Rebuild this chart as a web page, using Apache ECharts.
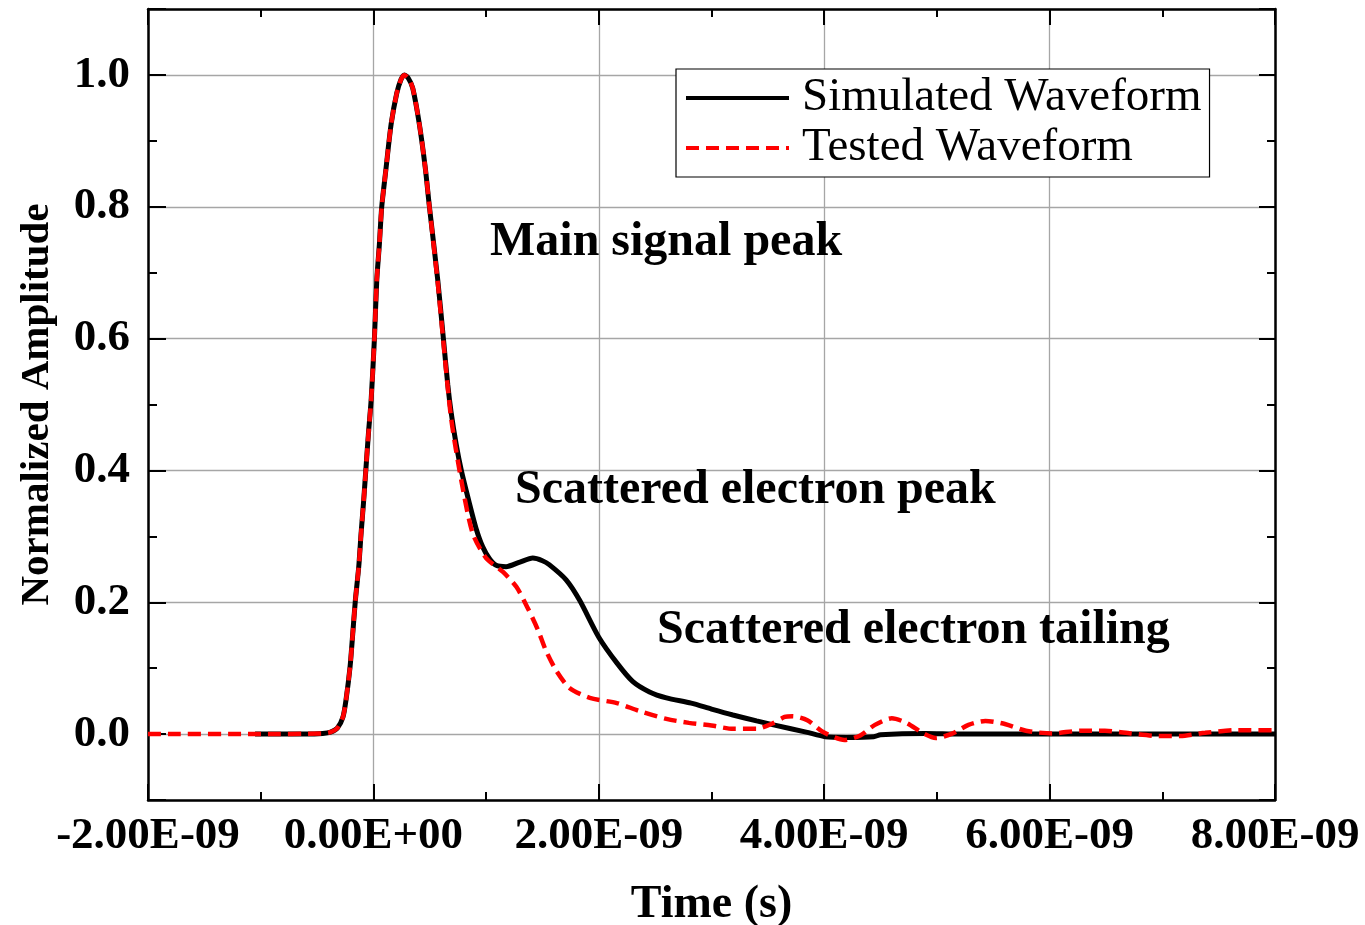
<!DOCTYPE html>
<html><head><meta charset="utf-8">
<script src="https://cdn.jsdelivr.net/npm/echarts@6/dist/echarts.min.js"></script>
<style>html,body{margin:0;padding:0;background:#fff}#c{width:1365px;height:925px}</style>
</head><body><div id="c"></div>
<script>
// time in nanoseconds (axis labels shown in seconds)
const simTime = [-1.05,-0.60,-0.45,-0.38,-0.32,-0.27,-0.243,-0.207,-0.183,-0.160,-0.130,-0.109,-0.086,-0.065,-0.044,-0.020,0.009,0.030,0.053,0.074,0.112,0.157,0.207,0.245,0.275,0.310,0.349,0.408,0.461,0.497,0.571,0.621,0.660,0.689,0.734,0.780,0.852,0.911,0.970,1.03,1.089,1.177,1.30,1.414,1.50,1.56,1.71,1.83,2.00,2.16,2.30,2.45,2.60,2.82,3.00,3.19,3.40,3.55,3.84,4.01,4.20,4.44,4.50,4.90,5.20,6.00,8.00];
const simAmp  = [0,0,0.001,0.003,0.009,0.026,0.052,0.102,0.153,0.203,0.254,0.305,0.355,0.406,0.456,0.507,0.600,0.689,0.743,0.800,0.858,0.925,0.972,0.993,1.000,0.995,0.980,0.925,0.858,0.800,0.689,0.600,0.530,0.489,0.440,0.400,0.350,0.312,0.284,0.266,0.256,0.254,0.261,0.267,0.263,0.257,0.234,0.203,0.147,0.108,0.080,0.064,0.055,0.047,0.038,0.029,0.020,0.014,0.003,-0.004,-0.005,-0.004,-0.001,0.001,0.000,0.000,0.000];
const testTime = [-2.0,-1.0,-0.45,-0.38,-0.32,-0.27,-0.243,-0.207,-0.183,-0.160,-0.130,-0.109,-0.086,-0.065,-0.044,-0.020,0.009,0.030,0.053,0.074,0.112,0.157,0.207,0.245,0.275,0.310,0.349,0.408,0.461,0.497,0.571,0.621,0.689,0.78,0.88,1.0,1.15,1.27,1.37,1.46,1.53,1.62,1.74,1.92,2.16,2.36,2.60,2.80,3.00,3.19,3.40,3.54,3.65,3.72,3.85,3.99,4.18,4.32,4.45,4.60,4.73,4.88,4.99,5.14,5.28,5.43,5.61,5.79,6.02,6.27,6.49,6.72,6.97,7.16,7.38,7.67,8.0];
const testAmp  = [0,0,0.001,0.003,0.009,0.026,0.052,0.102,0.153,0.203,0.254,0.305,0.355,0.406,0.456,0.507,0.600,0.689,0.743,0.800,0.858,0.925,0.972,0.993,1.000,0.995,0.980,0.925,0.858,0.800,0.685,0.595,0.480,0.385,0.305,0.267,0.246,0.223,0.191,0.158,0.127,0.097,0.070,0.055,0.047,0.035,0.023,0.017,0.013,0.008,0.008,0.016,0.026,0.027,0.021,0.003,-0.009,-0.002,0.014,0.024,0.017,0.001,-0.006,0.001,0.014,0.020,0.015,0.005,0.001,0.005,0.005,0.001,-0.003,-0.003,0.002,0.006,0.006];
const seriesNames = ['Simulated Waveform', 'Tested Waveform'];
const xAxisTitle = 'Time (s)';
const yAxisTitle = 'Normalized Amplitude';
const annotationTexts = ['Main signal peak', 'Scattered electron peak', 'Scattered electron tailing'];
const xRange = [-2, 8];
const yRange = [-0.1, 1.1];

const SERIF = '"Liberation Serif", "Times New Roman", serif';

function fmtSci(ns) {
  const s = ns * 1e-9;
  if (Math.abs(ns) < 1e-9) return '0.00E+00';
  let exp = Math.floor(Math.log10(Math.abs(s)) + 1e-9);
  let mant = s / Math.pow(10, exp);
  const sign = exp < 0 ? '-' : '+';
  const e = String(Math.abs(exp)).padStart(2, '0');
  return mant.toFixed(2) + 'E' + sign + e;
}

const chart = echarts.init(document.getElementById('c'), null, {renderer: 'canvas'});
const axisLineStyle = {color: '#000', width: 2.5};
const option = {
  animation: false,
  backgroundColor: '#fff',
  grid: {left: 148, right: 90, top: 9, bottom: 125, containLabel: false, outerBoundsMode: 'none'},
  legend: {
    orient: 'vertical', left: 676, top: 69,
    data: seriesNames,
    itemWidth: 103, itemHeight: 14, itemGap: 0,
    padding: [4, 8, 4, 8],
    borderColor: '#000', borderWidth: 1.2,
    backgroundColor: '#fff',
    itemStyle: {opacity: 0},
    lineStyle: {width: 4},
    textStyle: {fontFamily: SERIF, fontSize: 47, color: '#000', lineHeight: 50, padding: [0, 0, 0, 8]}
  },
  xAxis: [{
    type: 'value', min: xRange[0], max: xRange[1], interval: 2, position: 'bottom',
    axisLine: {lineStyle: axisLineStyle, onZero: false},
    axisTick: {inside: true, length: 16, lineStyle: {color: '#000', width: 2}},
    minorTick: {show: true, splitNumber: 2, length: 8, lineStyle: {color: '#000', width: 2}},
    axisLabel: {formatter: fmtSci, fontFamily: SERIF, fontWeight: 'bold', fontSize: 45, color: '#000', margin: 14},
    splitLine: {show: true, lineStyle: {color: '#a6a6a6', width: 1.3}},
    name: xAxisTitle, nameLocation: 'middle', nameGap: 82,
    nameTextStyle: {fontFamily: SERIF, fontWeight: 'bold', fontSize: 46, color: '#000'}
  }, {
    type: 'value', min: xRange[0], max: xRange[1], interval: 2, position: 'top',
    axisLine: {lineStyle: axisLineStyle, onZero: false},
    axisTick: {inside: true, length: 16, lineStyle: {color: '#000', width: 2}},
    minorTick: {show: true, splitNumber: 2, length: 8, lineStyle: {color: '#000', width: 2}},
    axisLabel: {show: false}, splitLine: {show: false}
  }],
  yAxis: [{
    type: 'value', min: yRange[0], max: yRange[1], splitNumber: 6, position: 'left',
    axisLine: {show: true, lineStyle: axisLineStyle, onZero: false},
    axisTick: {show: true, inside: true, length: 18, lineStyle: {color: '#000', width: 2}},
    minorTick: {show: true, splitNumber: 2, length: 9, lineStyle: {color: '#000', width: 2}},
    axisLabel: {formatter: v => v.toFixed(1), showMinLabel: false, showMaxLabel: false,
      fontFamily: SERIF, fontWeight: 'bold', fontSize: 45, color: '#000', margin: 18},
    splitLine: {show: true, lineStyle: {color: '#a6a6a6', width: 1.3}},
    name: yAxisTitle, nameLocation: 'middle', nameGap: 90,
    nameTextStyle: {fontFamily: SERIF, fontWeight: 'bold', fontSize: 41, color: '#000'}
  }, {
    type: 'value', min: yRange[0], max: yRange[1], splitNumber: 6, position: 'right',
    axisLine: {show: true, lineStyle: axisLineStyle, onZero: false},
    axisTick: {show: true, inside: true, length: 16, lineStyle: {color: '#000', width: 2}},
    minorTick: {show: true, splitNumber: 2, length: 8, lineStyle: {color: '#000', width: 2}},
    axisLabel: {show: false}, splitLine: {show: false}
  }],
  series: [{
    name: seriesNames[0], type: 'line', xAxisIndex: 0, yAxisIndex: 0,
    data: simTime.map((t, i) => [t, simAmp[i]]),
    symbol: 'none', showSymbol: false, smooth: 0.25,
    lineStyle: {color: '#000', width: 5}, itemStyle: {color: '#000'}, z: 3
  }, {
    name: seriesNames[1], type: 'line', xAxisIndex: 0, yAxisIndex: 0,
    data: testTime.map((t, i) => [t, testAmp[i]]),
    symbol: 'none', showSymbol: false, smooth: 0.25,
    lineStyle: {color: '#ff0000', width: 4.5, type: [13, 7]}, itemStyle: {color: '#ff0000'}, z: 4
  }],
  graphic: [
    {type: 'text', left: 490, top: 219, z: 10, style: {text: annotationTexts[0], font: 'bold 48px ' + SERIF, fill: '#000'}},
    {type: 'text', left: 515, top: 467, z: 10, style: {text: annotationTexts[1], font: 'bold 48px ' + SERIF, fill: '#000'}},
    {type: 'text', left: 657, top: 607, z: 10, style: {text: annotationTexts[2], font: 'bold 48px ' + SERIF, fill: '#000'}}
  ]
};
chart.setOption(option);
</script>
</body></html>
